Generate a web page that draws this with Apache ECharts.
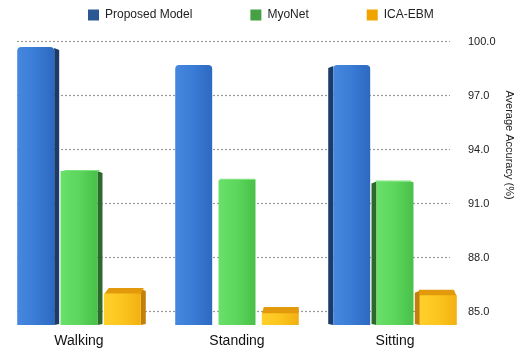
<!DOCTYPE html>
<html>
<head>
<meta charset="utf-8">
<script src="https://cdn.jsdelivr.net/npm/echarts@6/dist/echarts.min.js"></script>
<style>
  html, body { margin: 0; padding: 0; background: #fff; }
  #chart { width: 523px; height: 351px; }
</style>
</head>
<body>
<div id="chart"></div>
<script>
// Activities and average accuracy (%) per model
const categories = ['Walking', 'Standing', 'Sitting'];
const seriesNames = ['Proposed Model', 'MyoNet', 'ICA-EBM'];
const proposedModel = [99.7, 98.7, 98.7];
const myoNet = [92.8, 92.3, 92.2];
const icaEbm = [86.0, 84.9, 85.9];
const tickValues = [85, 88, 91, 94, 97, 100];

const Y_MIN = 84.25;
const Y_MAX = 100;
const FONT = '"Liberation Sans", Arial, Helvetica, sans-serif';

// Shading for each model: legend swatch, front face gradient, side face, lid
const palettes = [
  { legend: '#2b5792', front: ['#4688e0', '#3a7bd5', '#2d69c0'], side: '#1d3b68', lid: '#5a95e4' },
  { legend: '#46a046', front: ['#6ae06a', '#5cd65c', '#49c049'], side: '#2b6a2b', lid: '#7fe47f' },
  { legend: '#f0a400', front: ['#ffd02a', '#fcc51e', '#f2b012'], side: '#c47f08', lid: '#e29a0c' }
];

function makeRender(seriesIdx) {
  const pal = palettes[seriesIdx];
  return function (params, api) {
    const cat = api.value(0);
    const val = api.value(1);
    const band = api.size([1, 0])[0];
    const bw = band * 0.234;
    const gap = band * 0.04;
    const top = api.coord([cat, val]);
    const base = api.coord([cat, Y_MIN]);
    const x = top[0] + (seriesIdx - 1) * (bw + gap) - bw / 2;
    const yTop = top[1];
    const yBot = base[1];
    // side face shows toward the outer edges of the chart
    const depth = (1 - cat) * 5;
    // short bars reveal a lid seen from above
    const lid = Math.max(0, (yTop - 140) / 28);
    const children = [];
    if (depth !== 0) {
      const sx = depth > 0 ? x + bw : x;
      children.push({
        type: 'polygon',
        shape: { points: [[sx, yTop + 1 - lid], [sx + depth, yTop + 3 - lid], [sx + depth, yBot - 1], [sx, yBot]] },
        style: { fill: pal.side }
      });
    }
    if (lid > 0.8) {
      const sk = depth * 0.6;
      children.push({
        type: 'polygon',
        shape: { points: [[x, yTop + 1], [x + bw, yTop + 1], [x + bw + sk, yTop - lid], [x + sk + 2, yTop - lid]] },
        style: { fill: pal.lid }
      });
    }
    children.push({
      type: 'rect',
      shape: { x: x, y: yTop, width: bw, height: yBot - yTop, r: lid > 0.8 ? [1, 1, 0, 0] : [4, 4, 0, 0] },
      style: {
        fill: new echarts.graphic.LinearGradient(0, 0, 1, 0, [
          { offset: 0, color: pal.front[0] },
          { offset: 0.5, color: pal.front[1] },
          { offset: 1, color: pal.front[2] }
        ])
      }
    });
    return { type: 'group', children: children };
  };
}

const valueLists = [proposedModel, myoNet, icaEbm];

const chart = echarts.init(document.getElementById('chart'), null, { renderer: 'canvas' });
chart.setOption({
  animation: false,
  backgroundColor: '#fff',
  textStyle: { fontFamily: FONT },
  legend: {
    top: 9,
    left: 88,
    padding: 0,
    itemWidth: 11,
    itemHeight: 11,
    itemGap: 58,
    icon: 'rect',
    textStyle: { fontSize: 12, color: '#222', fontFamily: FONT, padding: [0, 0, 0, 1] },
    data: seriesNames
  },
  grid: [
    // bars
    { left: 0, right: 49, top: 41.5, bottom: 26 },
    // dotted reference lines and accuracy labels
    { left: 17, right: 73, top: 41.5, bottom: 39.3 }
  ],
  xAxis: [
    {
      type: 'category',
      gridIndex: 0,
      data: categories,
      axisLine: { show: false },
      axisTick: { show: false },
      axisLabel: { fontSize: 14, color: '#111', margin: 9, fontFamily: FONT }
    },
    { type: 'value', gridIndex: 1, show: false }
  ],
  yAxis: [
    { type: 'value', gridIndex: 0, min: Y_MIN, max: Y_MAX, show: false },
    {
      type: 'value',
      gridIndex: 1,
      position: 'right',
      min: tickValues[0],
      max: tickValues[tickValues.length - 1],
      interval: tickValues[1] - tickValues[0],
      axisLine: { show: false },
      axisTick: { show: false },
      axisLabel: {
        margin: 18,
        fontSize: 11,
        color: '#222',
        fontFamily: FONT,
        formatter: v => v.toFixed(1)
      },
      splitLine: { show: true, lineStyle: { color: '#999', type: [2, 2], width: 1.2 } }
    }
  ],
  graphic: [{
    type: 'text',
    x: 504,
    y: 145,
    rotation: -Math.PI / 2,
    style: {
      text: 'Average Accuracy (%)',
      fontSize: 11,
      fontFamily: FONT,
      fill: '#222',
      align: 'center',
      verticalAlign: 'bottom'
    }
  }],
  series: seriesNames.map((name, i) => ({
    name: name,
    type: 'custom',
    xAxisIndex: 0,
    yAxisIndex: 0,
    itemStyle: { color: palettes[i].legend },
    renderItem: makeRender(i),
    encode: { x: 0, y: 1 },
    clip: false,
    z: 5,
    data: valueLists[i].map((v, c) => [c, v])
  }))
});
</script>
</body>
</html>
